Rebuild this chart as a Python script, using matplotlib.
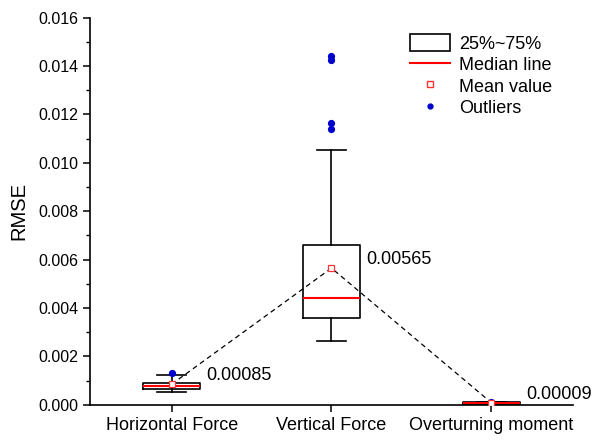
import matplotlib.pyplot as plt
from matplotlib.lines import Line2D
from matplotlib.patches import Patch
from matplotlib.ticker import MultipleLocator

plt.rcParams['font.family'] = ['Liberation Sans', 'DejaVu Sans']

# --- box statistics per load component ---
labels = ['Horizontal Force', 'Vertical Force', 'Overturning moment']
q1 = [0.00066, 0.00360, 0.00005]
q3 = [0.00091, 0.00660, 0.00010]
medians = [0.00078, 0.00442, 0.00007]
means = [0.00085, 0.00565, 0.00009]
whislo = [0.00054, 0.00262, 0.00002]
whishi = [0.00124, 0.01053, 0.00012]
outliers = [[0.00132], [0.01138, 0.01163, 0.01427, 0.01443], [0.00013]]
mean_text = ['0.00085', '0.00565', '0.00009']

stats = []
for i, name in enumerate(labels):
    stats.append({'label': name, 'q1': q1[i], 'q3': q3[i], 'med': medians[i],
                  'mean': means[i], 'whislo': whislo[i], 'whishi': whishi[i],
                  'fliers': outliers[i]})

positions = list(range(len(labels)))

fig, ax = plt.subplots(figsize=(5.93, 4.41), dpi=100)
fig.subplots_adjust(left=0.152, right=0.966, bottom=0.082, top=0.960)

ax.bxp(stats, positions=positions, widths=0.36, showmeans=False,
       boxprops=dict(color='black', linewidth=1.2),
       medianprops=dict(color='red', linewidth=1.5),
       whiskerprops=dict(color='black', linewidth=1.2),
       capprops=dict(color='black', linewidth=1.2),
       flierprops=dict(marker='o', markersize=4.2, markerfacecolor='#0000cc',
                       markeredgecolor='#0000cc', linestyle='none'),
       capwidths=0.18)

# mean markers joined by a dashed line
ax.plot(positions, means, color='black', linestyle=(0, (4, 3)), linewidth=0.9, zorder=3)
ax.plot(positions, means, linestyle='none', marker='s', markersize=4,
        markerfacecolor='white', markeredgecolor='#ff3333', markeredgewidth=0.9, zorder=4)

for x, m, t in zip(positions, means, mean_text):
    ax.annotate(t, (x, m), xytext=(25, 6), textcoords='offset points',
                fontsize=13, va='center', ha='left')

ax.set_xlim(-0.51, 2.51)
ax.set_ylim(0, 0.016)
ax.yaxis.set_major_locator(MultipleLocator(0.002))
ax.yaxis.set_minor_locator(MultipleLocator(0.001))
ax.yaxis.set_major_formatter(plt.FuncFormatter(lambda v, p: f'{v:.3f}'))
ax.set_xticks(positions)
ax.set_xticklabels(labels)
ax.tick_params(axis='both', which='major', length=5, width=1.1, direction='out')
ax.tick_params(axis='y', which='major', labelsize=11.5)
ax.tick_params(axis='x', which='major', labelsize=13)
ax.tick_params(axis='y', which='minor', length=3, width=1.0)
ax.set_ylabel('RMSE', fontsize=14.5, labelpad=7)

for side in ['top', 'right']:
    ax.spines[side].set_visible(False)
for side in ['left', 'bottom']:
    ax.spines[side].set_linewidth(1.2)

handles = [
    Patch(facecolor='white', edgecolor='black', linewidth=1.2, label='25%~75%'),
    Line2D([], [], color='red', linewidth=1.5, label='Median line'),
    Line2D([], [], linestyle='none', marker='s', markersize=4, markerfacecolor='white',
           markeredgecolor='#ff3333', label='Mean value'),
    Line2D([], [], linestyle='none', marker='o', markersize=3.5, markerfacecolor='#0000cc',
           markeredgecolor='#0000cc', label='Outliers'),
]
ax.legend(handles=handles, loc='upper right', bbox_to_anchor=(0.99, 1.0), frameon=False,
          fontsize=13, handlelength=2.2, handleheight=1.1, labelspacing=0.15,
          handletextpad=0.5)

fig.savefig('out.png', dpi=100)
